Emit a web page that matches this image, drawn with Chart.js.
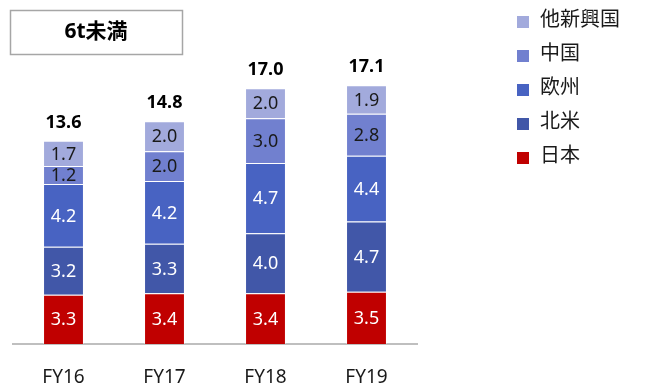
<!DOCTYPE html>
<html>
<head>
<meta charset="utf-8">
<script src="https://cdn.jsdelivr.net/npm/chart.js@4"></script>
<style>
  html, body { margin: 0; padding: 0; background: #fff; }
  #wrap { width: 650px; height: 389px; }
</style>
</head>
<body>
<div id="wrap"><canvas id="mychart" width="650" height="389"></canvas></div>
<script>
const ctx = document.getElementById('mychart').getContext('2d');

const years = ['FY16', 'FY17', 'FY18', 'FY19'];
const japan = [3.3, 3.4, 3.4, 3.5];
const northAmerica = [3.2, 3.3, 4.0, 4.7];
const europe = [4.2, 4.2, 4.7, 4.4];
const china = [1.2, 2.0, 3.0, 2.8];
const emerging = [1.7, 2.0, 2.0, 1.9];
const totals = [13.6, 14.8, 17.0, 17.1];

const fontFamily = '"Noto Sans", "Noto Sans CJK JP", sans-serif';
const darkLabel = ['#ffffff', '#ffffff', '#ffffff', '#1a1a1a', '#1a1a1a'];

// labels inside segments, totals above bars, title box and legend
const decorations = {
    id: 'decorations',
    afterDatasetsDraw(chart) {
        const c = chart.ctx;
        c.save();
        c.textAlign = 'center';
        c.textBaseline = 'middle';
        chart.data.datasets.forEach((ds, i) => {
            const meta = chart.getDatasetMeta(i);
            meta.data.forEach((bar, j) => {
                c.fillStyle = darkLabel[i];
                c.font = '18px ' + fontFamily;
                c.fillText(ds.data[j].toFixed(1), bar.x, (bar.y + bar.base) / 2 + 1);
            });
        });
        const topMeta = chart.getDatasetMeta(chart.data.datasets.length - 1);
        topMeta.data.forEach((bar, j) => {
            c.fillStyle = '#000';
            c.font = 'bold 18px ' + fontFamily;
            c.fillText(totals[j].toFixed(1), bar.x, bar.y - 18);
        });

        // title box
        c.strokeStyle = '#a6a6a6';
        c.lineWidth = 1.5;
        c.strokeRect(10.5, 10.5, 172, 44);
        c.fillStyle = '#000';
        c.font = 'bold 21px ' + fontFamily;
        c.fillText('6t未満', 96, 32);

        // legend (top series first)
        c.textAlign = 'left';
        c.font = '20px ' + fontFamily;
        const sets = chart.data.datasets.slice().reverse();
        sets.forEach((ds, k) => {
            const y = 20 + k * 34;
            c.fillStyle = ds.backgroundColor;
            c.fillRect(517, y - 4, 12, 12);
            c.fillStyle = '#1a1a1a';
            c.fillText(ds.label, 540, y);
        });
        c.restore();
    }
};

const chart = new Chart(ctx, {
    type: 'bar',
    data: {
        labels: years,
        datasets: [
            { label: '日本', data: japan, backgroundColor: '#c00000' },
            { label: '北米', data: northAmerica, backgroundColor: '#4157a8' },
            { label: '欧州', data: europe, backgroundColor: '#4863c2' },
            { label: '中国', data: china, backgroundColor: '#7180cf' },
            { label: '他新興国', data: emerging, backgroundColor: '#a2aadc' }
        ].map(ds => Object.assign(ds, {
            borderColor: 'rgba(255,255,255,0.35)',
            borderWidth: 1,
            categoryPercentage: 1,
            barPercentage: 0.405
        }))
    },
    options: {
        responsive: false,
        animation: false,
        layout: { padding: { left: 13, right: 233, top: 45, bottom: 0 } },
        plugins: {
            legend: { display: false },
            tooltip: { enabled: false }
        },
        scales: {
            x: {
                stacked: true,
                afterFit: (scale) => { scale.height = 45; },
                grid: { display: false },
                border: { display: true, color: '#bfbfbf', width: 2 },
                ticks: {
                    color: '#1a1a1a',
                    padding: 14,
                    font: { size: 19, family: fontFamily }
                }
            },
            y: {
                stacked: true,
                display: false,
                min: 0,
                max: 20
            }
        }
    },
    plugins: [decorations]
});
</script>
</body>
</html>
